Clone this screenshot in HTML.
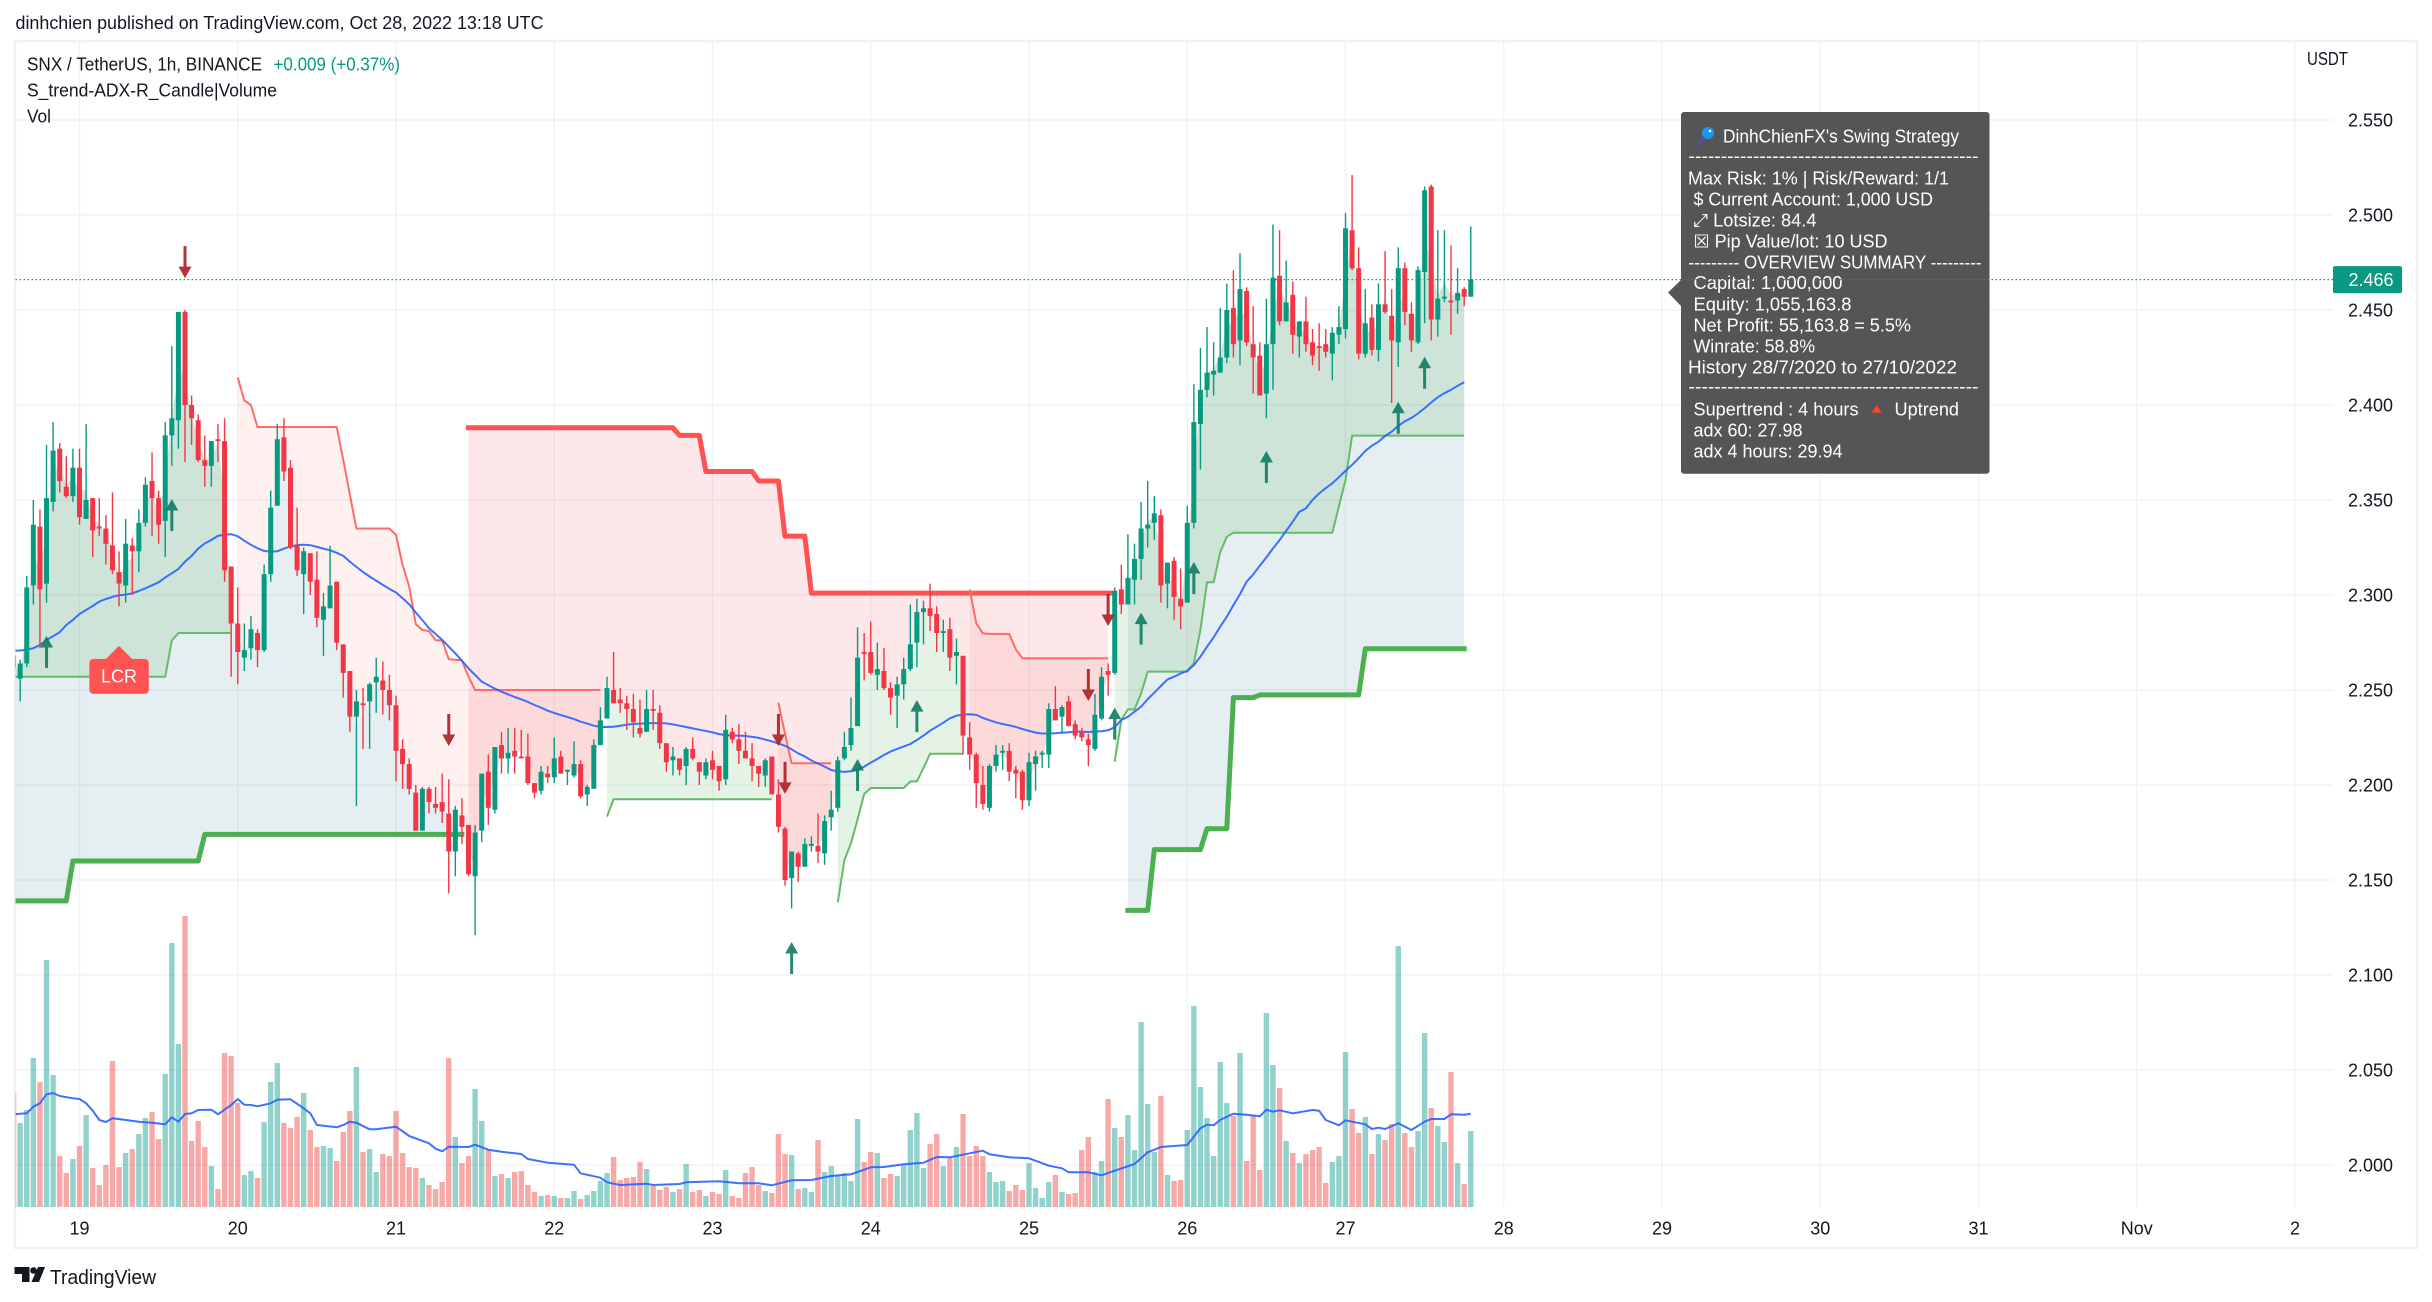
<!DOCTYPE html>
<html lang="en">
<head>
<meta charset="utf-8">
<title>SNX / TetherUS chart</title>
<style>
html,body{margin:0;padding:0;background:#fff;}
svg{display:block;font-family:"Liberation Sans","DejaVu Sans",sans-serif;}
text{font-size:18px;fill:#131722;}
.tip text{fill:#fff;}
</style>
</head>
<body>
<svg id="chart" xmlns="http://www.w3.org/2000/svg" width="2432" height="1302" viewBox="0 0 2432 1302">
<defs><clipPath id="paneClip"><rect x="15.5" y="42" width="2317.5" height="1165"/></clipPath></defs>
<rect x="0" y="0" width="2432" height="1302" fill="#ffffff"/>
<text x="15.5" y="29" textLength="528" lengthAdjust="spacingAndGlyphs">dinhchien published on TradingView.com, Oct 28, 2022 13:18 UTC</text>
<rect x="15" y="41" width="2402" height="1207" fill="none" stroke="#eff1f6" stroke-width="2.5"/>
<g id="grid"></g>
<g id="panes" clip-path="url(#paneClip)"></g>
<g id="axes"></g>
<g>
<text x="27" y="70.5" textLength="235" lengthAdjust="spacingAndGlyphs">SNX / TetherUS, 1h, BINANCE</text>
<text x="273.5" y="70.5" textLength="126.5" lengthAdjust="spacingAndGlyphs" style="fill:#089981">+0.009 (+0.37%)</text>
<text x="27" y="96.5" textLength="250" lengthAdjust="spacingAndGlyphs">S_trend-ADX-R_Candle|Volume</text>
<text x="27" y="122.5" textLength="24" lengthAdjust="spacingAndGlyphs">Vol</text>
</g>
<text x="2307" y="65" textLength="41" lengthAdjust="spacingAndGlyphs">USDT</text>

<g class="tip">
<path d="M1684 112H1986.5a3 3 0 0 1 3 3V470.7a3 3 0 0 1-3 3H1684a3 3 0 0 1-3-3V306L1668 292.5L1681 280V115a3 3 0 0 1 3-3Z" fill="#555555"/>
<g>
<line x1="1704" y1="138" x2="1698" y2="144" stroke="#5e4aa0" stroke-width="3.5" stroke-linecap="round"/>
<circle cx="1708" cy="133" r="6" fill="#1e96f0"/>
<circle cx="1710" cy="131" r="1.3" fill="#ffffff"/>
</g>
<text x="1723" y="142.5" textLength="236" lengthAdjust="spacingAndGlyphs">DinhChienFX's Swing Strategy</text>
<text x="1688.5" y="162" textLength="290" lengthAdjust="spacingAndGlyphs">---------------------------------------------</text>
<text x="1688" y="184.5" textLength="261" lengthAdjust="spacingAndGlyphs">Max Risk: 1% | Risk/Reward: 1/1</text>
<text x="1693.5" y="205.5" textLength="239.5" lengthAdjust="spacingAndGlyphs">$ Current Account: 1,000 USD</text>
<text x="1693.5" y="226.5" textLength="123" lengthAdjust="spacingAndGlyphs">⤢ Lotsize: 84.4</text>
<text x="1693.5" y="247.5" textLength="194" lengthAdjust="spacingAndGlyphs">☒ Pip Value/lot: 10 USD</text>
<text x="1688.5" y="268.5" textLength="293" lengthAdjust="spacingAndGlyphs">--------- OVERVIEW SUMMARY ---------</text>
<text x="1693.5" y="289" textLength="149" lengthAdjust="spacingAndGlyphs">Capital: 1,000,000</text>
<text x="1693.5" y="310.5" textLength="158" lengthAdjust="spacingAndGlyphs">Equity: 1,055,163.8</text>
<text x="1693.5" y="331.5" textLength="217.5" lengthAdjust="spacingAndGlyphs">Net Profit: 55,163.8 = 5.5%</text>
<text x="1693.5" y="352.5" textLength="121.5" lengthAdjust="spacingAndGlyphs">Winrate: 58.8%</text>
<text x="1688" y="373.5" textLength="269" lengthAdjust="spacingAndGlyphs">History 28/7/2020 to 27/10/2022</text>
<text x="1688.5" y="392.5" textLength="290" lengthAdjust="spacingAndGlyphs">---------------------------------------------</text>
<text x="1693.5" y="415.5" textLength="165" lengthAdjust="spacingAndGlyphs">Supertrend : 4 hours</text>
<polygon points="1876.7,405 1881.6,412.7 1871.7,412.7" fill="#f44336"/>
<text x="1894.5" y="415.5" textLength="64.5" lengthAdjust="spacingAndGlyphs">Uptrend</text>
<text x="1693.5" y="436.5" textLength="109" lengthAdjust="spacingAndGlyphs">adx 60: 27.98</text>
<text x="1693.5" y="457.5" textLength="149" lengthAdjust="spacingAndGlyphs">adx 4 hours: 29.94</text>
</g>

<g id="lastPrice"></g>

<g>
<path d="M14.5 1267h15v15h-7.5v-8h-7.5z" fill="#131722"/>
<circle cx="33.5" cy="1270.5" r="3.3" fill="#131722"/>
<path d="M38 1267h7l-6 15h-7.5z" fill="#131722"/>
<text x="50" y="1284" textLength="106" lengthAdjust="spacingAndGlyphs" style="font-size:20px">TradingView</text>
</g>
</svg>

<script>
// Bars run hourly; hour 0 is 19 Oct 00:00, first bar is hour -10.
const firstHour = -10;
const opens = [
2.268,2.256,2.264,2.305,2.336,2.306,2.349,2.377,2.357,2.352,
2.367,2.340,2.351,2.336,2.335,2.326,2.312,2.305,2.326,2.323,
2.338,2.360,2.351,2.339,2.384,2.392,2.449,2.400,2.392,2.371,
2.368,2.382,2.381,2.315,2.285,2.267,2.272,2.280,2.271,2.311,
2.347,2.383,2.367,2.326,2.311,2.322,2.308,2.287,2.293,2.307,
2.274,2.260,2.236,2.243,2.244,2.254,2.255,2.250,2.242,2.219,
2.211,2.196,2.176,2.198,2.190,2.191,2.185,2.165,2.184,2.179,
2.152,2.176,2.207,2.187,2.221,2.214,2.218,2.215,2.215,2.201,
2.197,2.206,2.204,2.215,2.207,2.205,2.211,2.195,2.198,2.221,
2.235,2.250,2.245,2.243,2.240,2.230,2.228,2.240,2.238,2.222,
2.213,2.214,2.210,2.219,2.212,2.205,2.213,2.210,2.203,2.228,
2.224,2.218,2.214,2.210,2.205,2.215,2.195,2.177,2.151,2.164,
2.157,2.168,2.168,2.164,2.183,2.188,2.214,2.221,2.231,2.270,
2.270,2.258,2.260,2.251,2.247,2.253,2.261,2.275,2.291,2.293,
2.290,2.280,2.282,2.268,2.268,2.225,2.216,2.200,2.188,2.210,
2.217,2.218,2.208,2.207,2.192,2.211,2.216,2.216,2.240,2.236,
2.244,2.232,2.228,2.224,2.219,2.235,2.260,2.259,2.303,2.295,
2.308,2.319,2.335,2.338,2.342,2.306,2.318,2.298,2.296,2.338,
2.390,2.408,2.416,2.417,2.425,2.451,2.434,2.460,2.432,2.426,
2.406,2.432,2.468,2.444,2.458,2.436,2.444,2.433,2.431,2.432,
2.427,2.437,2.440,2.492,2.472,2.427,2.446,2.429,2.453,2.447,
2.433,2.472,2.448,2.433,2.470,2.515,2.445,2.456,2.455,2.455,
2.461,2.457];
const highs = [
2.276,2.266,2.310,2.350,2.345,2.379,2.391,2.380,2.373,2.377,
2.377,2.390,2.351,2.351,2.342,2.354,2.323,2.340,2.330,2.345,
2.362,2.375,2.355,2.391,2.431,2.449,2.450,2.405,2.395,2.384,
2.381,2.390,2.393,2.315,2.304,2.285,2.289,2.282,2.316,2.355,
2.390,2.393,2.371,2.346,2.325,2.322,2.323,2.301,2.326,2.307,
2.274,2.260,2.250,2.251,2.254,2.267,2.265,2.258,2.247,2.224,
2.214,2.200,2.199,2.199,2.199,2.206,2.203,2.189,2.193,2.179,
2.179,2.206,2.216,2.220,2.228,2.230,2.230,2.229,2.227,2.201,
2.210,2.210,2.225,2.218,2.208,2.223,2.213,2.200,2.224,2.241,
2.257,2.270,2.251,2.247,2.248,2.245,2.250,2.250,2.242,2.222,
2.220,2.214,2.220,2.225,2.212,2.214,2.218,2.210,2.237,2.230,
2.232,2.228,2.222,2.210,2.214,2.215,2.203,2.178,2.165,2.165,
2.172,2.173,2.185,2.184,2.197,2.215,2.228,2.246,2.283,2.280,
2.286,2.275,2.272,2.254,2.257,2.267,2.295,2.298,2.297,2.306,
2.294,2.287,2.288,2.277,2.268,2.233,2.217,2.210,2.211,2.221,
2.221,2.222,2.210,2.208,2.217,2.218,2.218,2.243,2.252,2.242,
2.247,2.234,2.230,2.227,2.248,2.262,2.264,2.304,2.316,2.332,
2.327,2.349,2.360,2.352,2.345,2.317,2.320,2.314,2.347,2.411,
2.430,2.441,2.433,2.451,2.464,2.471,2.480,2.462,2.452,2.433,
2.456,2.495,2.492,2.476,2.465,2.444,2.457,2.440,2.443,2.440,
2.441,2.452,2.501,2.521,2.483,2.461,2.453,2.464,2.481,2.461,
2.483,2.475,2.454,2.473,2.515,2.516,2.492,2.492,2.484,2.472,
2.462,2.494];
const lows = [
2.258,2.244,2.262,2.295,2.272,2.296,2.344,2.354,2.351,2.349,
2.337,2.340,2.320,2.331,2.316,2.311,2.294,2.296,2.300,2.312,
2.336,2.331,2.327,2.320,2.368,2.377,2.370,2.379,2.370,2.357,
2.357,2.370,2.307,2.257,2.253,2.260,2.266,2.262,2.270,2.307,
2.347,2.360,2.324,2.310,2.290,2.300,2.283,2.268,2.293,2.271,
2.246,2.228,2.189,2.219,2.219,2.238,2.237,2.234,2.202,2.198,
2.195,2.176,2.176,2.185,2.185,2.180,2.143,2.152,2.169,2.152,
2.121,2.170,2.179,2.185,2.206,2.206,2.206,2.214,2.200,2.193,
2.195,2.201,2.201,2.206,2.200,2.204,2.193,2.189,2.198,2.221,
2.235,2.243,2.238,2.229,2.225,2.225,2.228,2.229,2.219,2.207,
2.205,2.205,2.200,2.213,2.200,2.203,2.203,2.197,2.200,2.222,
2.211,2.214,2.202,2.199,2.199,2.195,2.175,2.147,2.135,2.149,
2.157,2.165,2.159,2.158,2.176,2.186,2.213,2.218,2.231,2.255,
2.258,2.250,2.250,2.237,2.230,2.245,2.260,2.262,2.274,2.281,
2.270,2.270,2.260,2.253,2.216,2.208,2.188,2.187,2.186,2.207,
2.208,2.202,2.193,2.187,2.189,2.197,2.209,2.209,2.234,2.227,
2.231,2.224,2.223,2.210,2.218,2.234,2.247,2.258,2.290,2.295,
2.295,2.308,2.325,2.329,2.296,2.293,2.287,2.282,2.296,2.335,
2.366,2.404,2.405,2.417,2.422,2.425,2.421,2.431,2.406,2.405,
2.393,2.408,2.442,2.444,2.427,2.425,2.428,2.421,2.418,2.425,
2.413,2.432,2.435,2.471,2.424,2.425,2.426,2.423,2.448,2.401,
2.420,2.442,2.428,2.432,2.443,2.434,2.436,2.454,2.437,2.448,
2.452,2.457];
const closes = [
2.262,2.264,2.304,2.337,2.303,2.351,2.376,2.360,2.352,2.367,
2.341,2.350,2.334,2.335,2.327,2.313,2.306,2.327,2.323,2.338,
2.358,2.351,2.337,2.384,2.393,2.449,2.400,2.393,2.371,2.368,
2.381,2.381,2.313,2.285,2.270,2.271,2.282,2.271,2.311,2.346,
2.382,2.365,2.325,2.313,2.323,2.307,2.288,2.294,2.305,2.275,
2.259,2.236,2.244,2.242,2.253,2.257,2.250,2.242,2.218,2.211,
2.198,2.176,2.198,2.191,2.188,2.186,2.165,2.187,2.178,2.153,
2.175,2.206,2.188,2.220,2.214,2.217,2.215,2.214,2.201,2.196,
2.207,2.204,2.214,2.206,2.208,2.211,2.194,2.199,2.221,2.234,
2.251,2.243,2.243,2.240,2.233,2.227,2.240,2.239,2.222,2.212,
2.215,2.208,2.219,2.214,2.207,2.212,2.208,2.202,2.229,2.224,
2.218,2.214,2.210,2.206,2.213,2.195,2.178,2.150,2.165,2.157,
2.169,2.169,2.165,2.181,2.187,2.213,2.220,2.230,2.267,2.269,
2.259,2.261,2.251,2.246,2.253,2.261,2.274,2.291,2.293,2.289,
2.280,2.281,2.267,2.270,2.226,2.216,2.201,2.190,2.210,2.216,
2.218,2.207,2.206,2.192,2.212,2.215,2.217,2.240,2.234,2.241,
2.231,2.226,2.225,2.221,2.237,2.257,2.258,2.302,2.295,2.309,
2.319,2.335,2.337,2.343,2.305,2.317,2.299,2.294,2.338,2.391,
2.408,2.417,2.418,2.425,2.450,2.432,2.461,2.433,2.425,2.405,
2.432,2.467,2.444,2.454,2.437,2.444,2.432,2.426,2.430,2.428,
2.438,2.441,2.493,2.472,2.427,2.443,2.429,2.453,2.449,2.434,
2.472,2.449,2.434,2.471,2.513,2.445,2.456,2.457,2.454,2.459,
2.457,2.466];
const volumes = [
342,252,291,447,375,741,396,153,102,144,
183,276,117,66,126,438,120,162,174,219,
267,285,204,399,792,489,873,198,258,180,
123,54,462,453,312,96,108,87,255,375,
432,252,237,270,342,231,180,183,177,138,
225,288,420,165,174,105,159,153,288,162,
120,117,87,66,54,75,447,210,132,153,
354,258,171,93,99,87,105,108,66,45,
33,36,33,27,27,48,24,36,48,78,
102,150,81,87,90,135,114,63,51,60,
45,54,129,45,51,33,45,39,111,33,
27,102,120,66,48,42,219,159,156,54,
57,45,201,105,123,93,102,78,264,135,
165,162,87,99,93,126,231,282,117,189,
219,123,147,180,279,153,183,153,105,75,
78,48,66,51,132,57,27,75,96,45,
39,42,171,210,105,138,324,237,210,276,
171,555,309,165,333,96,78,81,231,603,
360,267,153,435,312,273,462,138,276,111,
582,426,357,198,162,132,159,171,180,72,
135,153,465,294,222,270,159,219,201,249,
783,222,180,228,522,297,243,195,405,132,
69,228];
const priceMA = [
2.2707,2.2708,2.2712,2.2720,2.2737,2.2763,2.2783,2.2804,2.2842,2.2869,
2.2900,2.2921,2.2942,2.2965,2.2979,2.2990,2.2999,2.3002,2.3009,2.3021,
2.3035,2.3051,2.3067,2.3092,2.3114,2.3137,2.3176,2.3206,2.3244,2.3271,
2.3290,2.3311,2.3318,2.3320,2.3309,2.3286,2.3264,2.3246,2.3232,2.3228,
2.3230,2.3244,2.3255,2.3263,2.3265,2.3262,2.3253,2.3244,2.3235,2.3222,
2.3206,2.3176,2.3148,2.3121,2.3097,2.3076,2.3053,2.3032,2.3013,2.2983,
2.2951,2.2908,2.2868,2.2825,2.2795,2.2763,2.2728,2.2693,2.2654,2.2614,
2.2579,2.2544,2.2526,2.2507,2.2491,2.2477,2.2463,2.2451,2.2437,2.2421,
2.2407,2.2391,2.2379,2.2368,2.2358,2.2347,2.2333,2.2323,2.2312,2.2305,
2.2305,2.2307,2.2312,2.2318,2.2321,2.2323,2.2324,2.2326,2.2326,2.2324,
2.2319,2.2312,2.2305,2.2298,2.2291,2.2284,2.2277,2.2268,2.2263,2.2260,
2.2260,2.2258,2.2253,2.2248,2.2239,2.2230,2.2218,2.2207,2.2188,2.2167,
2.2150,2.2129,2.2113,2.2097,2.2079,2.2072,2.2069,2.2072,2.2079,2.2097,
2.2118,2.2137,2.2158,2.2176,2.2190,2.2202,2.2216,2.2237,2.2260,2.2286,
2.2307,2.2328,2.2351,2.2365,2.2371,2.2372,2.2369,2.2353,2.2341,2.2330,
2.2321,2.2314,2.2306,2.2295,2.2285,2.2276,2.2271,2.2271,2.2272,2.2276,
2.2278,2.2281,2.2281,2.2279,2.2281,2.2283,2.2288,2.2304,2.2342,2.2359,
2.2386,2.2412,2.2452,2.2486,2.2521,2.2556,2.2570,2.2587,2.2601,2.2631,
2.2675,2.2728,2.2777,2.2833,2.2886,2.2947,2.3005,2.3070,2.3108,2.3154,
2.3198,2.3245,2.3289,2.3338,2.3386,2.3438,2.3456,2.3500,2.3535,2.3562,
2.3588,2.3620,2.3653,2.3685,2.3720,2.3758,2.3786,2.3807,2.3837,2.3860,
2.3890,2.3914,2.3932,2.3956,2.3983,2.4013,2.4041,2.4062,2.4080,2.4101,
2.4120];
const volMAHours = [-10,-8,-7,-6,-5,-4,-3,-1,0,1,2,3,4,5,7,9,11,13,14,15,16,17,18,20,21,23,24,25,26,27,29,30,32,34,35,36,37,39,40,41,42,44,45,48,50,53,54,55,56,59,60,62,64,67,68,71,75,76,79,80,82,86,87,91,92,97,100,103,105,108,111,114,117,120,122,125,128,130,132,135,137,138,141,144,147,149,150,153,155,157,160,162,164,168,170,171,172,173,175,177,179,180,181,182,184,187,188,189,191,192,195,196,197,198,200,202,204,205,207,208,210,211];
const volMAValues = [278,281,301,311,338,342,333,326,324,311,289,261,255,266,261,256,253,248,269,256,279,281,291,292,278,306,324,307,306,302,311,322,323,296,281,246,244,239,246,256,253,233,233,241,213,191,175,167,181,180,187,172,166,159,144,133,127,101,88,74,66,70,66,69,74,77,71,71,65,80,81,93,98,119,120,128,133,150,149,161,169,158,149,146,124,116,104,104,95,109,129,164,180,186,236,247,245,261,280,277,272,292,286,290,281,291,289,261,245,260,248,234,238,234,251,231,256,264,264,278,277,280];

// Supertrend segments: hour knots and price levels
const thickGreenAHours = [-10,-2,-1,18,19,58];
const thickGreenALevels = [2.139,2.139,2.160,2.160,2.174,2.174];
const thickRedHours = [59,90,91,94,95,102,103,106,107,110,111,157];
const thickRedLevels = [2.388,2.388,2.384,2.384,2.365,2.365,2.360,2.360,2.331,2.331,2.301,2.301];
const thickGreenBHours = [159,162,163,170,171,174,175,178,179,194,195,210];
const thickGreenBLevels = [2.134,2.134,2.166,2.166,2.177,2.177,2.246,2.246,2.2474,2.2474,2.2717,2.2717];
const thinGreenAHours = [-10,13,14,15,23];
const thinGreenALevels = [2.257,2.257,2.276,2.280,2.280];
const thinRedAHours = [24,25,26,27,39,40,41,42,47,48,49,50,51,52,53,54,55,56,58,59,60,79];
const thinRedALevels = [2.4145,2.4023,2.400,2.3884,2.3884,2.371,2.353,2.335,2.335,2.3316,2.3158,2.3044,2.2847,2.2816,2.281,2.2762,2.276,2.2662,2.2656,2.257,2.25,2.25];
const thinGreenBHours = [80,81,105];
const thinGreenBLevels = [2.1833,2.1925,2.1925];
const thinRedBHours = [106,107,108,114];
const thinRedBLevels = [2.2433,2.227,2.2114,2.2114];
const thinGreenCHours = [115,116,117,118,119,120,125,126,127,128,129,134];
const thinGreenCLevels = [2.1383,2.1605,2.1693,2.182,2.1953,2.1984,2.1984,2.2019,2.2019,2.209,2.2165,2.2165];
const thinRedCHours = [135,136,137,138,141,142,143,156];
const thinRedCLevels = [2.3029,2.2851,2.2798,2.2795,2.2795,2.2714,2.2667,2.2667];
const thinGreenDHours = [157,158,159,160,161,162,168,169,170,171,172,173,174,175,190,191,192,193,210];
const thinGreenDLevels = [2.2123,2.2342,2.2398,2.2398,2.2482,2.2597,2.2597,2.2641,2.2816,2.3067,2.3067,2.3225,2.3307,2.3328,2.3328,2.3467,2.3605,2.3839,2.3839];

// Signal arrows
const upArrowHours = [-5,14,108,118,127,157,161,169,180,200,204];
const upArrowTips = [2.2784,2.3505,2.1174,2.2137,2.2447,2.2407,2.2907,2.3174,2.3758,2.4017,2.4254];
const downArrowHours = [16,56,106,107,153,156];
const downArrowTips = [2.4668,2.2205,2.2205,2.1953,2.2442,2.2837];
const lcrHour = 6;
const lcrPrice = 2.2732;

// Axis labels
const priceTicks = [2.000,2.050,2.100,2.150,2.200,2.250,2.300,2.350,2.400,2.450,2.500,2.550];
const dayLabels = ['19','20','21','22','23','24','25','26','27','28','29','30','31','Nov','2'];
const lastPrice = 2.466;

const SVGNS = 'http://www.w3.org/2000/svg';
function xOf(h){return 79.5 + h * (158.25 / 24);}
function yOf(p){return 1165 - (p - 2) * 1900;}
function vOf(v){return 1207 - v / 3;}
function mk(tag, parent, attrs){
  const el = document.createElementNS(SVGNS, tag);
  for (const k in attrs) el.setAttribute(k, attrs[k]);
  parent.appendChild(el);
  return el;
}
function levelAt(hours, levels, h){
  for (let i = 0; i < hours.length - 1; i++){
    if (h >= hours[i] && h <= hours[i+1]){
      const t = (h - hours[i]) / (hours[i+1] - hours[i]);
      return levels[i] + (levels[i+1] - levels[i]) * t;
    }
  }
  return levels[levels.length - 1];
}
function ohlc4(h){
  const i = h - firstHour;
  return (opens[i] + highs[i] + lows[i] + closes[i]) / 4;
}
function linePath(hours, levels){
  return hours.map((h, i) => (i ? 'L' : 'M') + xOf(h).toFixed(1) + ' ' + yOf(levels[i]).toFixed(1)).join('');
}

const grid = document.getElementById('grid');
const panes = document.getElementById('panes');
const axes = document.getElementById('axes');
const lastGroup = document.getElementById('lastPrice');

// Grid + axis labels
priceTicks.forEach(function(p){
  const gl = mk('line', grid, {x1:15.5, x2:2333, y1:yOf(p), y2:yOf(p), stroke:'#f0f3fa', 'stroke-width':1.6});
  
  
  const t = mk('text', axes, {x:2348, y:yOf(p) + 6.5, textLength:45, lengthAdjust:'spacingAndGlyphs'});
  
  
  t.textContent = p.toFixed(3);
});
dayLabels.forEach(function(label, i){
  const x = xOf(i * 24);
  const gl = mk('line', grid, {x1:x, x2:x, y1:42, y2:1207, stroke:'#f0f3fa', 'stroke-width':1.4});
  
  
  const t = mk('text', axes, {x:x, y:1234.5, 'text-anchor':'middle'});
  
  
  t.textContent = label;
});

// Volume bars
volumes.forEach(function(v, i){
  const h = i + firstHour;
  const up = closes[i] >= opens[i];
  const bar = mk('rect', panes, {x:xOf(h) - 2.7, y:vOf(v), width:5.4, height:v / 3, fill: up ? '#26a69a' : '#ef5350', 'fill-opacity':0.5});
  
  
});

// Supertrend fills (level to ohlc4)
function fillBand(hours, levels, startH, endH, color, name){
  let top = '';
  let bottom = '';
  for (let h = startH; h <= endH; h++){
    top += (h === startH ? 'M' : 'L') + xOf(h).toFixed(1) + ' ' + yOf(ohlc4(h)).toFixed(1);
    bottom = 'L' + xOf(h).toFixed(1) + ' ' + yOf(levelAt(hours, levels, h)).toFixed(1) + bottom;
  }
  const band = mk('path', panes, {d: top + bottom + 'Z', fill: color});
  
  
}
const fillThickG = 'rgba(0,88,106,.1)';
const fillThickR = 'rgba(242,54,69,.12)';
const fillThinG = 'rgba(76,175,80,.15)';
const fillThinR = 'rgba(244,80,54,.08)';
fillBand(thickGreenAHours, thickGreenALevels, -10, 58, fillThickG, 'trend-4h-up-fill');
fillBand(thickRedHours, thickRedLevels, 59, 156, fillThickR, 'trend-4h-down-fill');
fillBand(thickGreenBHours, thickGreenBLevels, 159, 210, fillThickG, 'trend-4h-up-fill');
fillBand(thinGreenAHours, thinGreenALevels, -10, 23, fillThinG, 'trend-1h-up-fill');
fillBand(thinRedAHours, thinRedALevels, 24, 79, fillThinR, 'trend-1h-down-fill');
fillBand(thinGreenBHours, thinGreenBLevels, 80, 105, fillThinG, 'trend-1h-up-fill');
fillBand(thinRedBHours, thinRedBLevels, 106, 114, fillThinR, 'trend-1h-down-fill');
fillBand(thinGreenCHours, thinGreenCLevels, 115, 134, fillThinG, 'trend-1h-up-fill');
fillBand(thinRedCHours, thinRedCLevels, 135, 156, fillThinR, 'trend-1h-down-fill');
fillBand(thinGreenDHours, thinGreenDLevels, 157, 210, fillThinG, 'trend-1h-up-fill');

// Supertrend lines
function trendLine(hours, levels, color, width, cap, name){
  const path = mk('path', panes, {d: linePath(hours, levels), fill:'none', stroke:color, 'stroke-width':width, 'stroke-linejoin':'round', 'stroke-linecap':cap});
  
  
}
trendLine(thickGreenAHours, thickGreenALevels, '#4caf50', 5, 'square', 'supertrend-4h-up-line');
trendLine(thickRedHours, thickRedLevels, '#ff5252', 5, 'square', 'supertrend-4h-down-line');
trendLine(thickGreenBHours, thickGreenBLevels, '#4caf50', 5, 'square', 'supertrend-4h-up-line');
trendLine(thinGreenAHours, thinGreenALevels, '#66bb6a', 2, 'butt', 'supertrend-1h-up-line');
trendLine(thinRedAHours, thinRedALevels, '#ff6b6b', 2, 'butt', 'supertrend-1h-down-line');
trendLine(thinGreenBHours, thinGreenBLevels, '#66bb6a', 2, 'butt', 'supertrend-1h-up-line');
trendLine(thinRedBHours, thinRedBLevels, '#ff6b6b', 2, 'butt', 'supertrend-1h-down-line');
trendLine(thinGreenCHours, thinGreenCLevels, '#66bb6a', 2, 'butt', 'supertrend-1h-up-line');
trendLine(thinRedCHours, thinRedCLevels, '#ff6b6b', 2, 'butt', 'supertrend-1h-down-line');
trendLine(thinGreenDHours, thinGreenDLevels, '#66bb6a', 2, 'butt', 'supertrend-1h-up-line');

// Moving averages
const maPath = priceMA.map((p, i) => (i ? 'L' : 'M') + xOf(i + firstHour).toFixed(1) + ' ' + yOf(p).toFixed(1)).join('');
const maLine = mk('path', panes, {d: maPath, fill:'none', stroke:'#2962ff', 'stroke-width':2, 'stroke-linejoin':'round', 'stroke-opacity':0.9});


const volMaPath = volMAHours.map((h, i) => (i ? 'L' : 'M') + xOf(h).toFixed(1) + ' ' + vOf(volMAValues[i]).toFixed(1)).join('');
const volMaLine = mk('path', panes, {d: volMaPath, fill:'none', stroke:'#2962ff', 'stroke-width':2, 'stroke-linejoin':'round', 'stroke-opacity':0.9});



// Candles
opens.forEach(function(o, i){
  const h = i + firstHour;
  const c = closes[i];
  const up = c >= o;
  const color = up ? '#089981' : '#f23645';
  const x = xOf(h);
  const wick = mk('line', panes, {x1:x, x2:x, y1:yOf(highs[i]), y2:yOf(lows[i]), stroke:color, 'stroke-width':1.4});
  
  
  const top = yOf(Math.max(o, c));
  const bot = yOf(Math.min(o, c));
  const body = mk('rect', panes, {x:x - 2.5, y:top, width:5, height:Math.max(bot - top, 1.5), fill:color});
  
  
});

// Signal arrows
upArrowHours.forEach(function(h, i){
  const x = xOf(h);
  const y = yOf(upArrowTips[i]);
  const arrow = mk('path', panes, {d:'M' + x + ' ' + y + 'l6.5 11.5h-5v20.5h-3v-20.5h-5z', fill:'#0f7a62', 'fill-opacity':0.9});
  
  
});
downArrowHours.forEach(function(h, i){
  const x = xOf(h);
  const y = yOf(downArrowTips[i]);
  const arrow = mk('path', panes, {d:'M' + x + ' ' + y + 'l6.5 -11.5h-5v-20.5h-3v20.5h-5z', fill:'#a81e22', 'fill-opacity':0.9});
  
  
});

// LCR label
const lcrX = xOf(lcrHour);
const lcrY = yOf(lcrPrice);
const lcrBox = mk('path', panes, {d:'M' + lcrX + ' ' + lcrY + 'l13 13h12.7a4 4 0 0 1 4 4v27a4 4 0 0 1-4 4h-51.4a4 4 0 0 1-4-4v-27a4 4 0 0 1 4-4h12.7z', fill:'#ff5252'});


const lcrText = mk('text', panes, {x:lcrX, y:lcrY + 36.5, 'text-anchor':'middle', style:'fill:#fff;font-size:18px;'});


lcrText.textContent = 'LCR';

// Last price line & tag
const yLast = yOf(lastPrice);
const lastLine = mk('line', lastGroup, {x1:15.5, x2:2333, y1:yLast, y2:yLast, stroke:'#089981', 'stroke-width':1.3, 'stroke-dasharray':'1.5 2.5'});


const lastBox = mk('rect', lastGroup, {x:2333, y:yLast - 13.5, width:69, height:27, rx:2, fill:'#089981'});


const lastText = mk('text', lastGroup, {x:2348.5, y:yLast + 6.5, textLength:45, lengthAdjust:'spacingAndGlyphs', style:'fill:#fff'});


lastText.textContent = lastPrice.toFixed(3);
</script>
</body>
</html>
